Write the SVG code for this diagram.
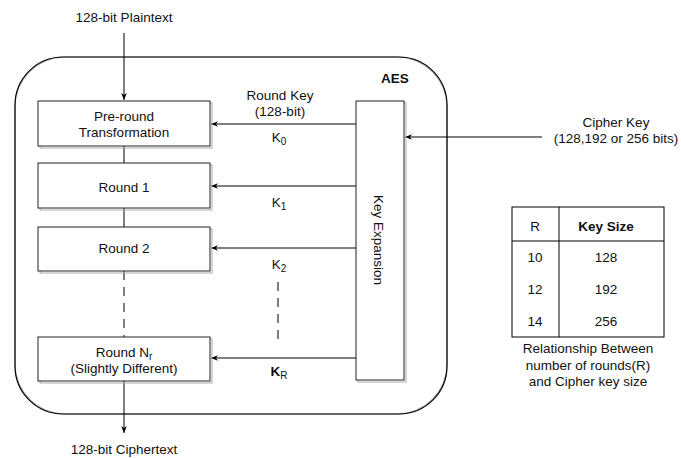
<svg xmlns="http://www.w3.org/2000/svg" width="681" height="458" viewBox="0 0 681 458">
<defs>
<marker id="ah" viewBox="0 0 10 10" refX="10" refY="5" markerWidth="7" markerHeight="7" orient="auto" markerUnits="userSpaceOnUse">
<path d="M0,1 L10,5 L0,9 L3,5 Z" fill="#000"/>
</marker>
</defs>
<style>
text{font-family:"Liberation Sans",Arial,sans-serif;font-size:13.5px;fill:#111;text-anchor:middle}
.b{font-weight:bold}
.box{fill:#fff;stroke:#222;stroke-width:1}
.sh{fill:none;stroke:#aaa;stroke-width:1}
.ln{stroke:#000;stroke-width:1;fill:none}
.ar{stroke:#000;stroke-width:1;fill:none;marker-end:url(#ah)}
.ds{stroke:#000;stroke-width:1;fill:none;stroke-dasharray:9,7}
</style>
<rect width="681" height="458" fill="#fff"/>
<g id="aes">
<rect x="15" y="57" width="432" height="357" rx="50" ry="50" fill="none" stroke="#999" stroke-width="1"/>
<rect x="15" y="57" width="432" height="357" rx="48" ry="48" fill="none" stroke="#000" stroke-width="1.2"/>
<text x="395" y="83" class="b">AES</text>
</g>
<g id="connectors">
<line class="ar" x1="124" y1="33" x2="124" y2="100"/>
<line class="ln" x1="124" y1="146" x2="124" y2="163"/>
<line class="ln" x1="124" y1="208" x2="124" y2="227"/>
<line class="ds" x1="124" y1="271" x2="124" y2="337"/>
<line class="ar" x1="124" y1="381" x2="124" y2="433"/>
<line class="ar" x1="356" y1="124" x2="211" y2="124"/>
<line class="ar" x1="356" y1="186" x2="211" y2="186"/>
<line class="ar" x1="356" y1="248" x2="211" y2="248"/>
<line class="ar" x1="356" y1="358" x2="211" y2="358"/>
<line class="ds" x1="278" y1="282" x2="278" y2="343"/>
<line class="ar" x1="542" y1="137" x2="405" y2="137"/>
<text x="280" y="100">Round Key</text>
<text x="280" y="116">(128-bit)</text>
<text x="279" y="142">K<tspan font-size="10" dy="3">0</tspan></text>
<text x="279" y="207">K<tspan font-size="10" dy="3">1</tspan></text>
<text x="279" y="269">K<tspan font-size="10" dy="3">2</tspan></text>
<text x="279" y="376" class="b">K<tspan font-size="10" dy="3" font-weight="normal">R</tspan></text>
</g>
<g id="plaintext"><text x="124" y="22">128-bit Plaintext</text></g>
<g id="ciphertext"><text x="124" y="454">128-bit Ciphertext</text></g>
<g id="preround">
<rect class="sh" x="40" y="103" width="172" height="45"/>
<rect class="box" x="38" y="101" width="172" height="45"/>
<text x="124" y="121">Pre-round</text>
<text x="124" y="137">Transformation</text>
</g>
<g id="round1">
<rect class="sh" x="40" y="165" width="172" height="45"/>
<rect class="box" x="38" y="163" width="172" height="45"/>
<text x="124" y="192">Round 1</text>
</g>
<g id="round2">
<rect class="sh" x="40" y="229" width="172" height="44"/>
<rect class="box" x="38" y="227" width="172" height="44"/>
<text x="124" y="253">Round 2</text>
</g>
<g id="roundnr">
<rect class="sh" x="40" y="339" width="172" height="44"/>
<rect class="box" x="38" y="337" width="172" height="44"/>
<text x="124" y="357">Round N<tspan font-size="10" dy="3">r</tspan></text>
<text x="124" y="373">(Slightly Different)</text>
</g>
<g id="keyexp">
<rect class="sh" x="358" y="103" width="48" height="279"/>
<rect class="box" x="356" y="101" width="48" height="279"/>
<text transform="translate(374,240) rotate(90)">Key Expansion</text>
</g>
<g id="cipherkey">
<text x="616" y="127">Cipher Key</text>
<text x="616" y="143">(128,192 or 256 bits)</text>
</g>
<g id="table">
<rect x="512" y="207" width="152" height="130" fill="#fff" stroke="#000" stroke-width="1"/>
<line class="ln" x1="559" y1="207" x2="559" y2="337"/>
<line class="ln" x1="512" y1="241" x2="664" y2="241"/>
<text x="535" y="231">R</text>
<text x="606" y="231" class="b">Key Size</text>
<text x="535" y="262">10</text>
<text x="606" y="262">128</text>
<text x="535" y="294">12</text>
<text x="606" y="294">192</text>
<text x="535" y="326">14</text>
<text x="606" y="326">256</text>
<text x="588" y="353">Relationship Between</text>
<text x="588" y="370">number of rounds(R)</text>
<text x="588" y="386">and Cipher key size</text>
</g>
</svg>
